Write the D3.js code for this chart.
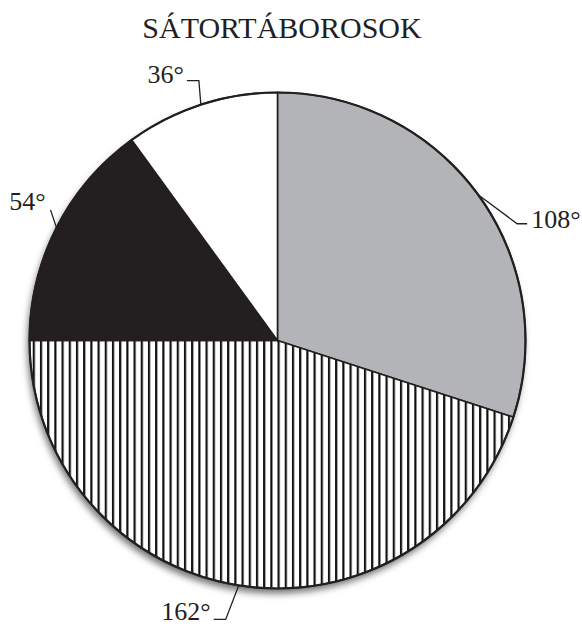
<!DOCTYPE html>
<html>
<head>
<meta charset="utf-8">
<script src="https://cdn.jsdelivr.net/npm/d3@7/dist/d3.min.js"></script>
<style>
  body { margin: 0; background: #fff; }
  text { font-family: "Liberation Serif", "DejaVu Serif", serif; fill: #231f20; }
</style>
</head>
<body>
<div class="chart"></div>
<script>
// values in degrees, clockwise from the top
const labels = ['108°', '162°', '54°', '36°'];
const values = [108, 162, 54, 36];
const fills = ['gray', 'stripes', 'black', 'white'];
const title = 'SÁTORTÁBOROSOK';

const width = 582, height = 626;
const cx = 277.5, cy = 340.5, r = 248;

const svg = d3.select('.chart')
  .append('svg')
  .attr('width', width)
  .attr('height', height);

const defs = svg.append('defs');

const pat = defs.append('pattern')
  .attr('id', 'stripes')
  .attr('patternUnits', 'userSpaceOnUse')
  .attr('width', 7.2)
  .attr('height', 10);
pat.append('rect').attr('width', 7.2).attr('height', 10).attr('fill', '#fff');
pat.append('rect').attr('x', 0).attr('width', 2.2).attr('height', 10).attr('fill', '#111');

const shadow = defs.append('filter')
  .attr('id', 'shadow')
  .attr('x', '-10%').attr('y', '-10%')
  .attr('width', '120%').attr('height', '120%');
shadow.append('feDropShadow')
  .attr('dx', -2)
  .attr('dy', 5)
  .attr('stdDeviation', 3.5)
  .attr('flood-color', '#000')
  .attr('flood-opacity', 0.55);

const colorOf = {
  gray: '#b3b4b7',
  stripes: 'url(#stripes)',
  black: '#231f20',
  white: '#ffffff'
};

const pie = d3.pie().sort(null).value(d => d)
  .startAngle(0).endAngle(2 * Math.PI);
const arcs = pie(values);
const arc = d3.arc().innerRadius(0).outerRadius(r);

const g = svg.append('g').attr('transform', `translate(${cx},${cy})`);

// shadow disc behind
g.append('circle')
  .attr('r', r)
  .attr('fill', '#fff')
  .attr('filter', 'url(#shadow)');

g.selectAll('path.slice')
  .data(arcs)
  .enter()
  .append('path')
  .attr('class', 'slice')
  .attr('d', arc)
  .attr('fill', (d, i) => colorOf[fills[i]])
  .attr('stroke', '#231f20')
  .attr('stroke-width', 1.6)
  .attr('stroke-linejoin', 'miter');

g.append('circle')
  .attr('r', r)
  .attr('fill', 'none')
  .attr('stroke', '#231f20')
  .attr('stroke-width', 2.2);

// label leader layout: elbow + end offsets relative to the point on the rim
const leader = [
  { elbow: [39, 29], end: [49, 29], anchor: 'start', tx: 4, ty: 4 },
  { elbow: [-13, 34], end: [-25, 34], anchor: 'end', tx: -3, ty: 1 },
  { elbow: [-6, -18], end: [-6, -18], anchor: 'end', tx: -5, ty: 0 },
  { elbow: [-2, -24], end: [-14, -24], anchor: 'end', tx: -3, ty: 2 }
];

const rim = d => {
  const a = (d.startAngle + d.endAngle) / 2;
  return [r * Math.sin(a), -r * Math.cos(a)];
};

arcs.forEach((d, i) => {
  const p = rim(d);
  const L = leader[i];
  const pts = [p, [p[0] + L.elbow[0], p[1] + L.elbow[1]], [p[0] + L.end[0], p[1] + L.end[1]]];
  g.append('path')
    .attr('d', d3.line()(pts))
    .attr('fill', 'none')
    .attr('stroke', '#231f20')
    .attr('stroke-width', 1.3);
  g.append('text')
    .attr('x', pts[2][0] + L.tx)
    .attr('y', pts[2][1] + L.ty)
    .attr('text-anchor', L.anchor)
    .style('font-size', '26px')
    .text(labels[i]);
});

svg.append('text')
  .attr('x', 282)
  .attr('y', 38)
  .attr('text-anchor', 'middle')
  .style('font-size', '30px')
  .text(title);
</script>
</body>
</html>
